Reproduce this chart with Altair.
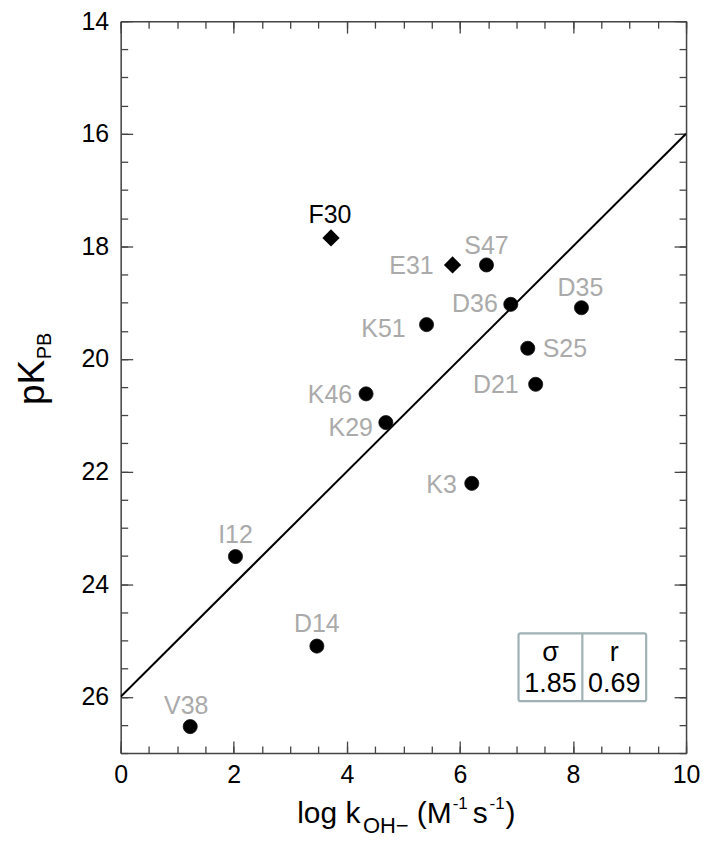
import altair as alt
import pandas as pd

# ---------------- data ----------------
diamond_names = ["F30", "E31"]
diamond_x = [3.72, 5.87]
diamond_y = [17.85, 18.33]

circle_names = ["S47", "D36", "D35", "K51", "S25", "D21", "K46", "K29", "K3", "I12", "D14", "V38"]
circle_x = [6.47, 6.90, 8.15, 5.41, 7.20, 7.34, 4.34, 4.69, 6.21, 2.03, 3.47, 1.23]
circle_y = [18.33, 19.03, 19.09, 19.39, 19.81, 20.45, 20.62, 21.13, 22.21, 23.51, 25.10, 26.53]

fit_x = [0, 10]
fit_y = [26, 16]

stat_names = ["σ", "r"]
stat_values = [1.85, 0.69]

x_major = [0, 2, 4, 6, 8, 10]
y_major = [14, 16, 18, 20, 22, 24, 26]
x_minor = [0, 0.5, 1, 1.5, 2, 2.5, 3, 3.5, 4, 4.5, 5, 5.5, 6, 6.5, 7, 7.5, 8, 8.5, 9, 9.5, 10]
y_minor = [14, 14.5, 15, 15.5, 16, 16.5, 17, 17.5, 18, 18.5, 19, 19.5, 20, 20.5, 21,
           21.5, 22, 22.5, 23, 23.5, 24, 24.5, 25, 25.5, 26, 26.5, 27]

# ---------------- styles ----------------
FONT = "Liberation Sans"
GRAY = "#aaaaaa"
AXC = "#444444"
W, H = 567, 734

# label placement: align, dx, dy, color
LABEL_STYLE = {
    "F30": ("center", -1, -15, "black"),
    "E31": ("right", -19, 9, GRAY),
    "S47": ("center", 0, -11, GRAY),
    "D36": ("right", -13, 8, GRAY),
    "D35": ("center", -1, -12, GRAY),
    "K51": ("right", -21, 12, GRAY),
    "S25": ("left", 15, 9, GRAY),
    "D21": ("right", -17, 9, GRAY),
    "K46": ("right", -14, 9, GRAY),
    "K29": ("right", -13, 13, GRAY),
    "K3": ("right", -15, 10, GRAY),
    "I12": ("center", 0, -14, GRAY),
    "D14": ("center", 0, -14, GRAY),
    "V38": ("center", -4, -13, GRAY),
}

pts = pd.DataFrame({
    "name": diamond_names + circle_names,
    "x": diamond_x + circle_x,
    "y": diamond_y + circle_y,
})
dia = pd.DataFrame({"name": diamond_names, "x": diamond_x, "y": diamond_y})
cir = pd.DataFrame({"name": circle_names, "x": circle_x, "y": circle_y})
fit = pd.DataFrame({"x": fit_x, "y": fit_y})

xs = alt.Scale(domain=[0, 10], nice=False, zero=False)
ys = alt.Scale(domain=[14, 27], nice=False, zero=False, reverse=True)


def axis(orient, values, labels=False, tick=None, domain=False, pad=0):
    d = dict(orient=orient, values=values, grid=False, title=None, labels=labels,
             domain=domain, domainColor=AXC, domainWidth=1.5, labelFlush=False,
             labelOverlap=False, labelFont=FONT, labelFontSize=25, labelColor="black",
             labelPadding=pad)
    if tick is None:
        d["ticks"] = False
    else:
        d["ticks"] = True
        d["tickSize"] = {"expr": str(-tick)}
        d["tickColor"] = AXC
        d["tickWidth"] = 1.3
    return alt.Axis(**d)


def enc(ax_x=None, ax_y=None):
    return dict(
        x=alt.X("x:Q", scale=xs, axis=ax_x),
        y=alt.Y("y:Q", scale=ys, axis=ax_y),
    )


layers = []

# regression line + label axes
layers.append(
    alt.Chart(fit).mark_line(color="black", strokeWidth=2, clip=True).encode(
        **enc(axis("bottom", x_major, labels=True, domain=True, pad=10),
              axis("left", y_major, labels=True, domain=True, pad=12))
    )
)
# circles + major inner ticks bottom/left
layers.append(
    alt.Chart(cir).mark_point(shape="circle", filled=True, color="black", size=200, opacity=1,
                              stroke="#111111", strokeWidth=0.8).encode(
        **enc(axis("bottom", x_major, tick=12), axis("left", y_major, tick=12))
    )
)
# diamonds + minor inner ticks bottom/left
layers.append(
    alt.Chart(dia).mark_point(shape="diamond", filled=True, color="black", size=300, opacity=1).encode(
        **enc(axis("bottom", x_minor, tick=7), axis("left", y_minor, tick=7))
    )
)

# labels; first two carry the top/right axes
for i, n in enumerate(diamond_names + circle_names):
    al, dx, dy, col = LABEL_STYLE[n]
    if i == 0:
        ax_x = axis("top", x_major, tick=12, domain=True)
        ax_y = axis("right", y_major, tick=12, domain=True)
    elif i == 1:
        ax_x = axis("top", x_minor, tick=7)
        ax_y = axis("right", y_minor, tick=7)
    else:
        ax_x = None
        ax_y = None
    layers.append(
        alt.Chart(pts).transform_filter(alt.datum.name == n).mark_text(
            align=al, baseline="alphabetic", dx=dx, dy=dy, font=FONT, fontSize=25, color=col
        ).encode(text="name:N", **enc(ax_x, ax_y))
    )

# ---- stats box (pixel coordinates in the plot area) ----
one = alt.Data(values=[{}])
BOXC = "#9fb1b4"
layers.append(
    alt.Chart(one).mark_rect(filled=False, stroke=BOXC, strokeWidth=2.2, cornerRadius=2).encode(
        x=alt.value(399), x2=alt.value(527), y=alt.value(614), y2=alt.value(682)
    )
)
layers.append(
    alt.Chart(one).mark_rule(stroke=BOXC, strokeWidth=2.2).encode(
        x=alt.value(463), y=alt.value(614), y2=alt.value(682)
    )
)
for i, (nm, v) in enumerate(zip(stat_names, stat_values)):
    cx = 431 + 64 * i
    layers.append(
        alt.Chart(one).mark_text(font=FONT, fontSize=27, color="black", align="center",
                                 baseline="alphabetic").encode(
            x=alt.value(cx), y=alt.value(642), text=alt.value(nm))
    )
    layers.append(
        alt.Chart(one).mark_text(font=FONT, fontSize=27, color="black", align="center",
                                 baseline="alphabetic").encode(
            x=alt.value(cx), y=alt.value(673), text=alt.value(f"{v:.2f}"))
    )

# ---- axis titles with sub/superscripts ----
def txt(s, x, y, size, angle=0):
    return alt.Chart(one).mark_text(font=FONT, fontSize=size, color="black", align="left",
                                    baseline="alphabetic", angle=angle).encode(
        x=alt.value(x), y=alt.value(y), text=alt.value(s))

# y title: pK_PB (rotated)
layers.append(txt("pK", -77, 385, 37, 270))
layers.append(txt("PB", -70, 339, 20, 270))

# x title: log k_OH− (M^-1 s^-1)
layers.append(txt("log k", 177, 804, 30))
layers.append(txt("OH\u2212", 243, 814, 22))
layers.append(txt("(M", 297, 804, 30))
layers.append(txt("-1", 333, 790, 17))
layers.append(txt("s", 353, 804, 30))
layers.append(txt("-1", 370, 790, 17))
layers.append(txt(")", 386, 804, 30))

chart = alt.layer(*layers).resolve_axis(x="independent", y="independent").properties(
    width=W, height=H,
    autosize=alt.AutoSizeParams(type="none"),
    padding={"left": 113, "top": 12, "right": 20, "bottom": 90},
).configure_view(stroke=None).configure(background="white")

chart.save("out.html", embed_options={"renderer": "svg", "actions": False})
